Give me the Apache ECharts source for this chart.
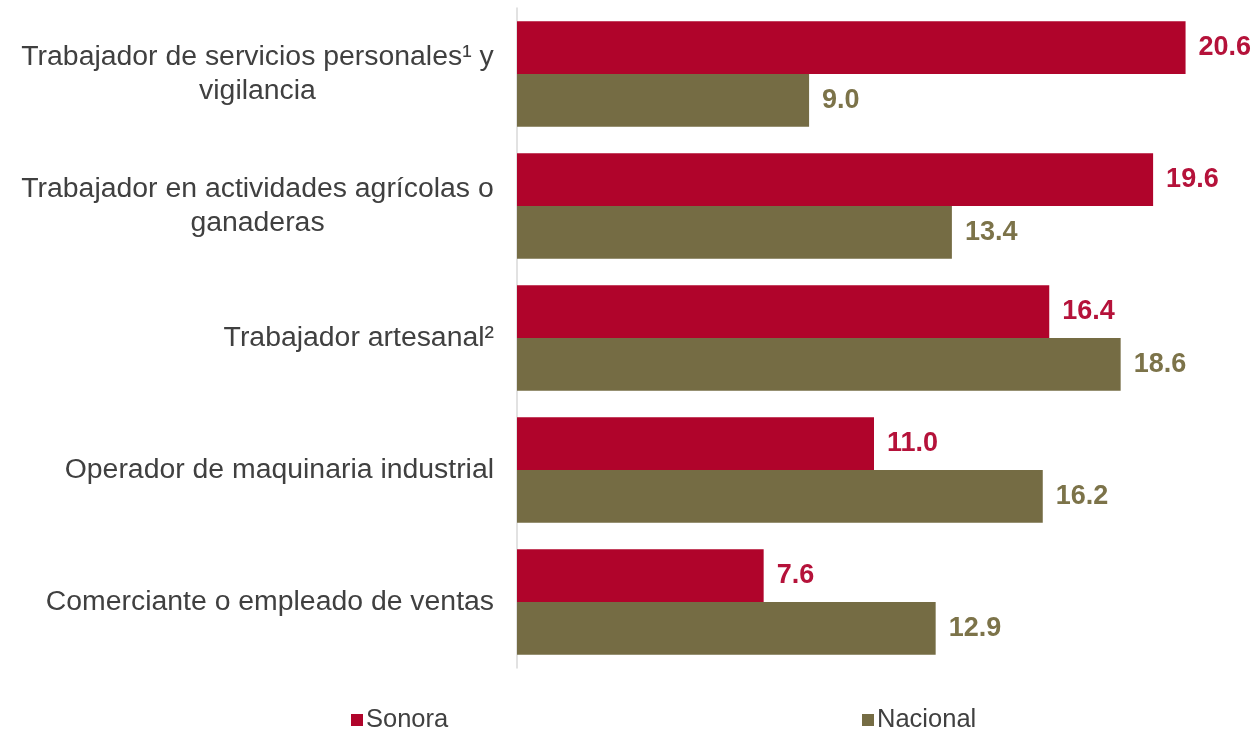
<!DOCTYPE html>
<html>
<head>
<meta charset="utf-8">
<script src="https://cdn.jsdelivr.net/npm/echarts@6/dist/echarts.min.js"></script>
<style>
html,body{margin:0;padding:0;background:#fff;}
#chart{width:1258px;height:732px;}
</style>
</head>
<body>
<div id="chart"></div>
<script>
var categories = [
  "Trabajador de servicios personales¹ y\nvigilancia",
  "Trabajador en actividades agrícolas o\nganaderas",
  "Trabajador artesanal²",
  "Operador de maquinaria industrial",
  "Comerciante o empleado de ventas"
];
var sonora = [20.6, 19.6, 16.4, 11.0, 7.6];
var nacional = [9.0, 13.4, 18.6, 16.2, 12.9];
var seriesNames = ["Sonora", "Nacional"];

var FONT = '"Liberation Sans", Arial, sans-serif';
var LABEL_SIZE = 28.4;
var ctx = document.createElement('canvas').getContext('2d');
ctx.font = LABEL_SIZE + 'px ' + FONT;
function textWidth(s){ return Math.ceil(ctx.measureText(s).width); }

var chart = echarts.init(document.getElementById('chart'));
var option = {
  backgroundColor: '#ffffff',
  animation: false,
  grid: { left: 517, right: 27, top: 8, bottom: 64, containLabel: false },
  xAxis: { type: 'value', min: 0, max: 22, show: false },
  yAxis: {
    type: 'category',
    data: categories,
    inverse: true,
    axisLine: { show: true, lineStyle: { color: '#D9D9D9', width: 1.5 } },
    axisTick: { show: false },
    axisLabel: {
      margin: 23,
      color: '#404040',
      fontFamily: FONT,
      fontSize: LABEL_SIZE,
      lineHeight: 34,
      formatter: function (v) {
        var lines = v.split('\n');
        if (lines.length === 1) return v;
        var w = 0;
        lines.forEach(function (l) { w = Math.max(w, textWidth(l)); });
        return lines.map(function (l) { return '{c' + w + '|' + l + '}'; }).join('\n');
      },
      rich: (function () {
        var r = {};
        categories.forEach(function (c) {
          var lines = c.split('\n');
          if (lines.length > 1) {
            var w = 0;
            lines.forEach(function (l) { w = Math.max(w, textWidth(l)); });
            r['c' + w] = { width: w, align: 'center', fontSize: LABEL_SIZE, fontFamily: FONT, color: '#404040', lineHeight: 34 };
          }
        });
        return r;
      })()
    }
  },
  legend: [
    {
      data: [seriesNames[0]], left: 346, top: 702, icon: 'rect', itemWidth: 12, itemHeight: 12, itemGap: 5,
      textStyle: { fontFamily: FONT, fontSize: 25.5, color: '#404040', padding: [0, 0, 0, -2] }
    },
    {
      data: [seriesNames[1]], left: 857, top: 702, icon: 'rect', itemWidth: 12, itemHeight: 12, itemGap: 5,
      textStyle: { fontFamily: FONT, fontSize: 25.5, color: '#404040', padding: [0, 0, 0, -2] }
    }
  ],
  series: [
    {
      name: seriesNames[0], type: 'bar', data: sonora,
      barCategoryGap: '20%', barGap: '0%',
      itemStyle: { color: '#B0042B' },
      label: {
        show: true, position: 'right', distance: 13,
        color: '#B5123A', fontFamily: FONT, fontWeight: 'bold', fontSize: 27,
        formatter: function (p) { return p.value.toFixed(1); }
      }
    },
    {
      name: seriesNames[1], type: 'bar', data: nacional,
      barCategoryGap: '20%', barGap: '0%',
      itemStyle: { color: '#756C44' },
      label: {
        show: true, position: 'right', distance: 13,
        color: '#7C7349', fontFamily: FONT, fontWeight: 'bold', fontSize: 27,
        formatter: function (p) { return p.value.toFixed(1); }
      }
    }
  ]
};
chart.setOption(option);
</script>
</body>
</html>
